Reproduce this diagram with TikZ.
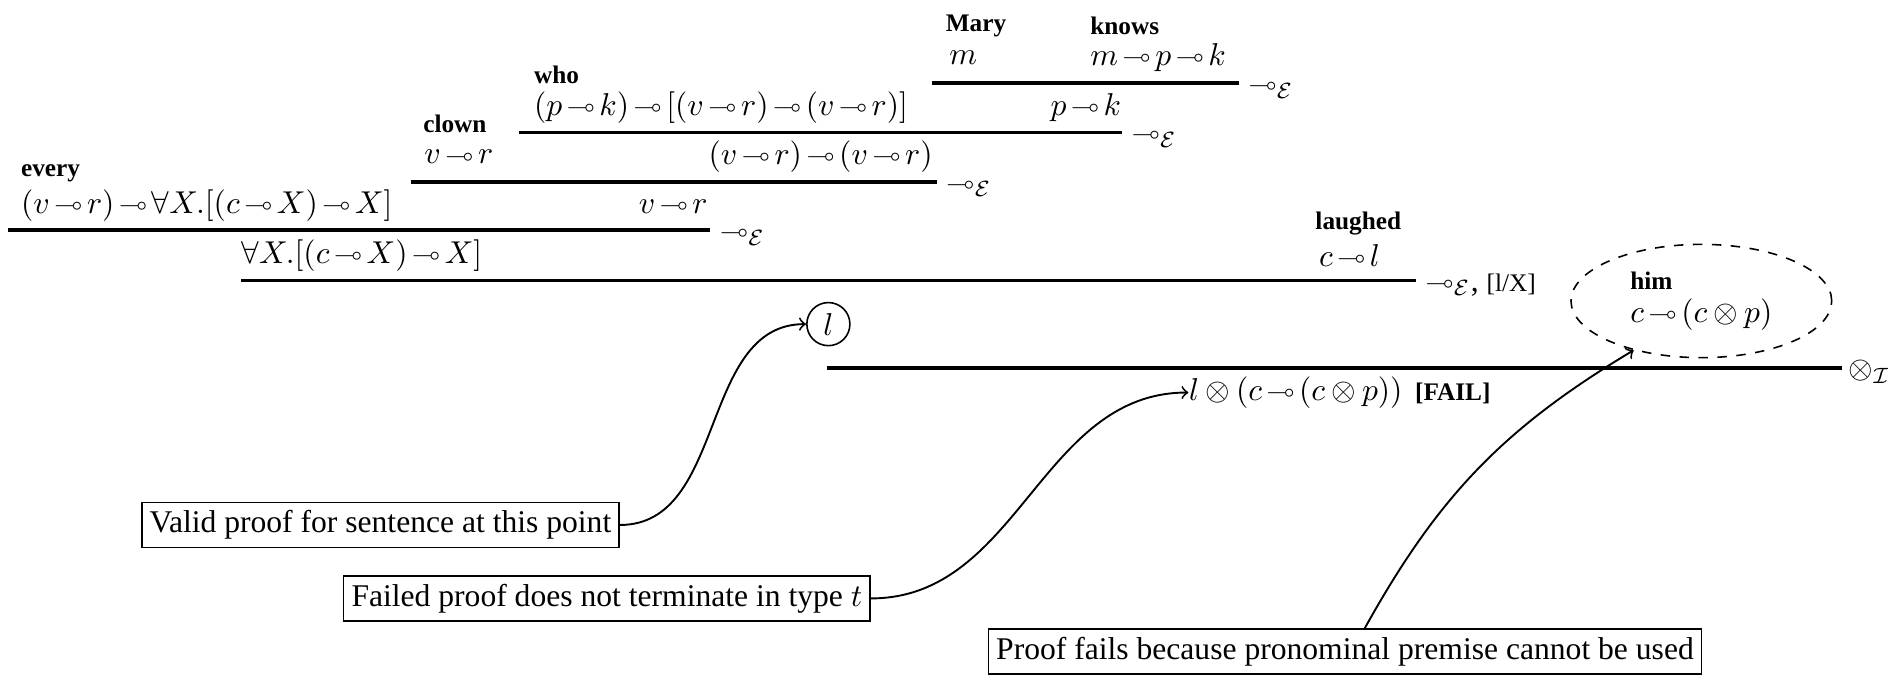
\documentclass[tikz,border=0pt]{standalone}
\usepackage{amssymb}
\usepackage{graphicx}
\usepackage{fontspec}
\setmainfont{Liberation Serif}
\usetikzlibrary{positioning,shapes.geometric}
\newcommand{\lolg}{\vcenter{\hbox{\scalebox{0.8}{$\multimap$}}}}
\newcommand{\lol}{\mathord{\mkern2.6mu\lolg\mkern2.6mu}}
\newcommand{\ot}{\mathord{\mkern3.5mu\otimes\mkern3.5mu}}

\begin{document}
\begin{tikzpicture}
			\tikzset{parola/.style={anchor=west, inner sep=0pt, font=\footnotesize\bfseries, yshift=-0.03cm},
				formula/.style={anchor=west, inner sep=0pt},
				regola/.style={line width=1.1pt},
				nomeregola/.style={anchor=base west, inner sep=0pt},
				nota/.style={draw, line width=0.5pt, inner sep=2.5pt},
				freccia/.style={->, semithick}}
			
			\useasboundingbox (0,0) rectangle (21.0,-7.513);
			
			% Mary knows
			\node[parola] (Mw) at (10.513,-0.254) {Mary};
			\node[formula] (M) at (10.554,-0.643) {$m$};
			\node[parola] (Kw) at (12.121,-0.254) {knows};
			\node[formula] (K) at (12.121,-0.643) {$m\lol p\lol k$};
			\coordinate (r1a) at (10.366,-0.924);
			\coordinate (r1b) at (13.781,-0.924);
			\draw[regola] (r1a) -- (r1b);
			\node[nomeregola] (e1) at ([xshift=1mm,yshift=-3.3pt]r1b) {$\lolg_{\mathcal{E}}$};
			\node[formula] (PK) at (11.679,-1.192) {$p\lol k$};
			
			% who
			\node[parola] (Ww) at (5.933,-0.804) {who};
			\node[formula] (W) at (5.933,-1.192) {$(p\lol k)\lol[(v\lol r)\lol(v\lol r)]$};
			\coordinate (r2a) at (5.772,-1.473);
			\coordinate (r2b) at (12.482,-1.473);
			\draw[regola] (r2a) -- (r2b);
			\node[nomeregola] (e2) at ([xshift=1mm,yshift=-3.3pt]r2b) {$\lolg_{\mathcal{E}}$};
			\node[formula] (VV) at (7.875,-1.741) {$(v\lol r)\lol(v\lol r)$};
			
			% clown
			\node[parola] (Cw) at (4.701,-1.353) {clown};
			\node[formula] (C) at (4.714,-1.741) {$v\lol r$};
			\coordinate (r3a) at (4.567,-2.022);
			\coordinate (r3b) at (10.420,-2.022);
			\draw[regola] (r3a) -- (r3b);
			\node[nomeregola] (e3) at ([xshift=1mm,yshift=-3.3pt]r3b) {$\lolg_{\mathcal{E}}$};
			\node[formula] (VR) at (7.098,-2.290) {$v\lol r$};
			
			% every
			\node[parola] (Ew) at (0.228,-1.902) {every};
			\node[formula] (E) at (0.228,-2.290) {$(v\lol r)\lol\forall X.[(c\lol X)\lol X]$};
			\coordinate (r4a) at (0.094,-2.558);
			\coordinate (r4b) at (7.902,-2.558);
			\draw[regola] (r4a) -- (r4b);
			\node[nomeregola] (e4) at ([xshift=1mm,yshift=-3.3pt]r4b) {$\lolg_{\mathcal{E}}$};
			\node[formula] (FX) at (2.679,-2.839) {$\forall X.[(c\lol X)\lol X]$};
			
			% laughed
			\node[parola] (Lw) at (14.625,-2.451) {laughed};
			\node[formula] (L) at (14.665,-2.839) {$c\lol l$};
			\coordinate (r5a) at (2.679,-3.121);
			\coordinate (r5b) at (15.750,-3.121);
			\draw[regola] (r5a) -- (r5b);
			\node[nomeregola] (e5) at ([xshift=1mm,yshift=-3.3pt]r5b) {$\lolg_{\mathcal{E}}$, {\footnotesize[l/X]}};
			\node[circle, draw, line width=0.5pt, inner sep=2.2pt] (l) at (9.214,-3.605) {$l$};
			
			% him (premessa pronominale)
			\node[ellipse, draw, dashed, line width=0.5pt, inner sep=0pt, minimum width=2.9cm, minimum height=1.26cm, align=left] (H) at (18.924,-3.348) {{\footnotesize\bfseries him}\\[-1.5pt]$c\lol(c\ot p)$};
			\coordinate (r6a) at (9.201,-4.095);
			\coordinate (r6b) at (20.491,-4.095);
			\draw[regola] (r6a) -- (r6b);
			\node[nomeregola] (e6) at ([xshift=0.6mm,yshift=-3.3pt]r6b) {$\otimes_{\mathcal{I}}$};
			\node[formula] (F) at (13.219,-4.366) {$l\ot(c\lol(c\ot p))$\hspace{4pt}{\footnotesize\bfseries[FAIL]}};
			
			% Note
			\node[nota] (N1) at (4.232,-5.839) {Valid proof for sentence at this point};
			\node[nota] (N2) at (6.750,-6.656) {Failed proof does not terminate in type $t$};
			\node[nota] (N3) at (14.960,-7.246) {Proof fails because pronominal premise cannot be used};
			
			\draw[freccia] (N1.east) to[out=0, in=180] (l.west);
			\draw[freccia] (N2.east) to[out=0, in=180] (F.west);
			\draw[freccia] ([xshift=2.2mm]N3.north) to[bend left=15] (H.216);
		\end{tikzpicture}
\end{document}
